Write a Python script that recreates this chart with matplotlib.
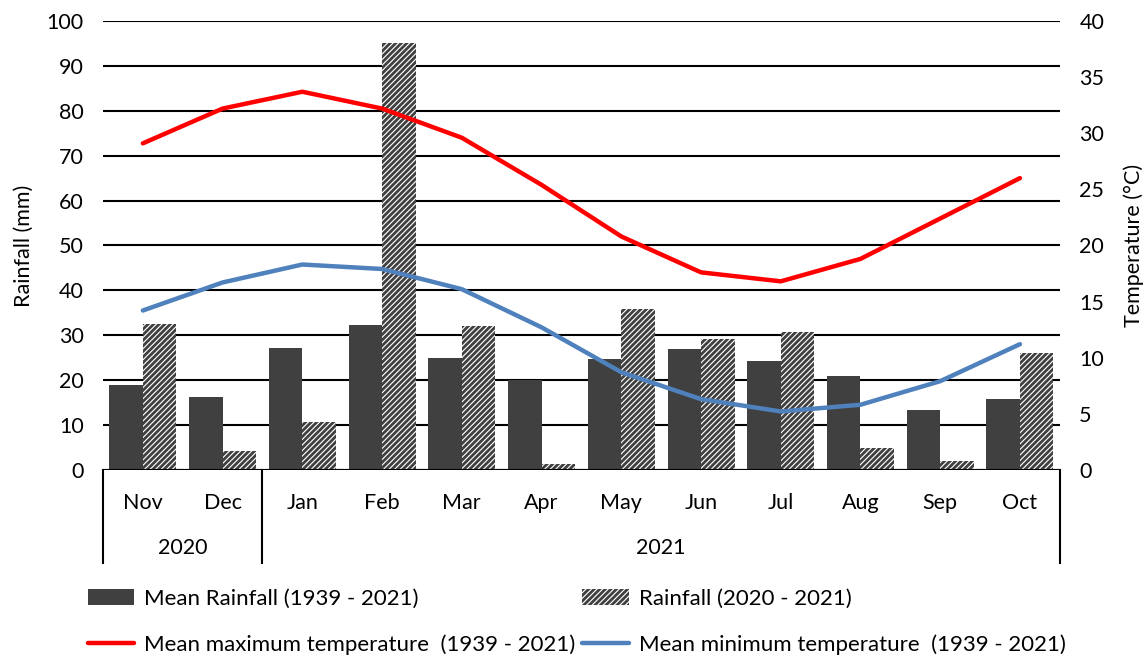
import matplotlib
matplotlib.use('Agg')
import numpy as np
import matplotlib.pyplot as plt
from matplotlib.lines import Line2D

plt.rcParams['font.family'] = ['Lato', 'DejaVu Sans']
plt.rcParams['hatch.linewidth'] = 2.0

months = ['Nov', 'Dec', 'Jan', 'Feb', 'Mar', 'Apr', 'May', 'Jun', 'Jul', 'Aug', 'Sep', 'Oct']
years = ['2020', '2021']
year_counts = [2, 10]

mean_rain = [19.0, 16.3, 27.2, 32.3, 25.0, 20.0, 24.7, 27.0, 24.2, 21.0, 13.3, 15.8]
rain_2021 = [32.5, 4.3, 10.7, 95.0, 32.0, 1.2, 35.8, 29.2, 30.8, 4.8, 2.0, 26.0]
max_temp = [29.1, 32.2, 33.7, 32.2, 29.6, 25.4, 20.8, 17.6, 16.8, 18.8, 22.4, 26.0]
min_temp = [14.2, 16.7, 18.3, 17.9, 16.1, 12.7, 8.7, 6.3, 5.2, 5.8, 7.9, 11.2]

fs = 15.5
fig = plt.figure(figsize=(11.47, 6.58), dpi=100)
ax = fig.add_axes([0.0898, 0.286, 0.8342, 0.682])
ax2 = ax.twinx()

x = np.arange(len(months))
w = 0.42
ax.bar(x - w/2, mean_rain, w, color='#404040', zorder=3, label='Mean Rainfall (1939 - 2021)')
ax.bar(x + w/2, rain_2021, w, color='white', edgecolor='#404040', linewidth=0,
       hatch='//////', zorder=3, label='Rainfall (2020 - 2021)')

ax2.plot(x, max_temp, color='#ff0000', lw=3.2, solid_capstyle='round', zorder=4)
ax2.plot(x, min_temp, color='#4f81bd', lw=3.2, solid_capstyle='round', zorder=4)

ax.set_xlim(-0.5, len(months) - 0.5)
ax.set_ylim(0, 100)
ax2.set_ylim(0, 40)
ax.set_yticks(np.arange(0, 101, 10))
ax2.set_yticks(np.arange(0, 41, 5))
ax.yaxis.grid(True, color='black', lw=1.5, zorder=0)
ax.set_axisbelow(True)

for a in (ax, ax2):
    for s in ['top', 'left', 'right', 'bottom']:
        a.spines[s].set_visible(False)
    a.tick_params(axis='both', length=0, labelsize=fs, pad=14)
ax.axhline(0, color='black', lw=1.5, zorder=5)

ax.set_xticks(x)
ax.set_xticklabels(months)
ax.tick_params(axis='x', pad=17)
ax.set_ylabel('Rainfall (mm)', fontsize=fs, labelpad=9)
ax2.set_ylabel('Temperature (°C)', fontsize=fs, labelpad=14)

# year grouping under the month labels
trans = ax.get_xaxis_transform()
ax_h = 0.682 * 658
bottom = -(563 - 470) / ax_h
start = -0.5
edges = [start]
for yr, n in zip(years, year_counts):
    ax.text(start + n / 2, -(548 - 470) / ax_h, yr, transform=trans,
            ha='center', va='center', fontsize=fs)
    start += n
    edges.append(start)
for e in edges:
    ax.add_line(Line2D([e, e], [0, bottom], transform=trans, color='black',
                       lw=1.5, clip_on=False))

h1, l1 = ax.get_legend_handles_labels()
hmax = Line2D([], [], color='#ff0000', lw=3.2, solid_capstyle='round')
hmin = Line2D([], [], color='#4f81bd', lw=3.2, solid_capstyle='round')
handles = [h1[0], hmax, h1[1], hmin]
labels = [l1[0], 'Mean maximum temperature  (1939 - 2021)', l1[1],
          'Mean minimum temperature  (1939 - 2021)']
fig.legend(handles, labels, ncol=2, loc='lower left', bbox_to_anchor=(0.059, -0.026),
           frameon=False, fontsize=16, handlelength=2.1, handletextpad=0.45,
           columnspacing=0.3, labelspacing=1.15)

plt.savefig('out.png', dpi=100)
